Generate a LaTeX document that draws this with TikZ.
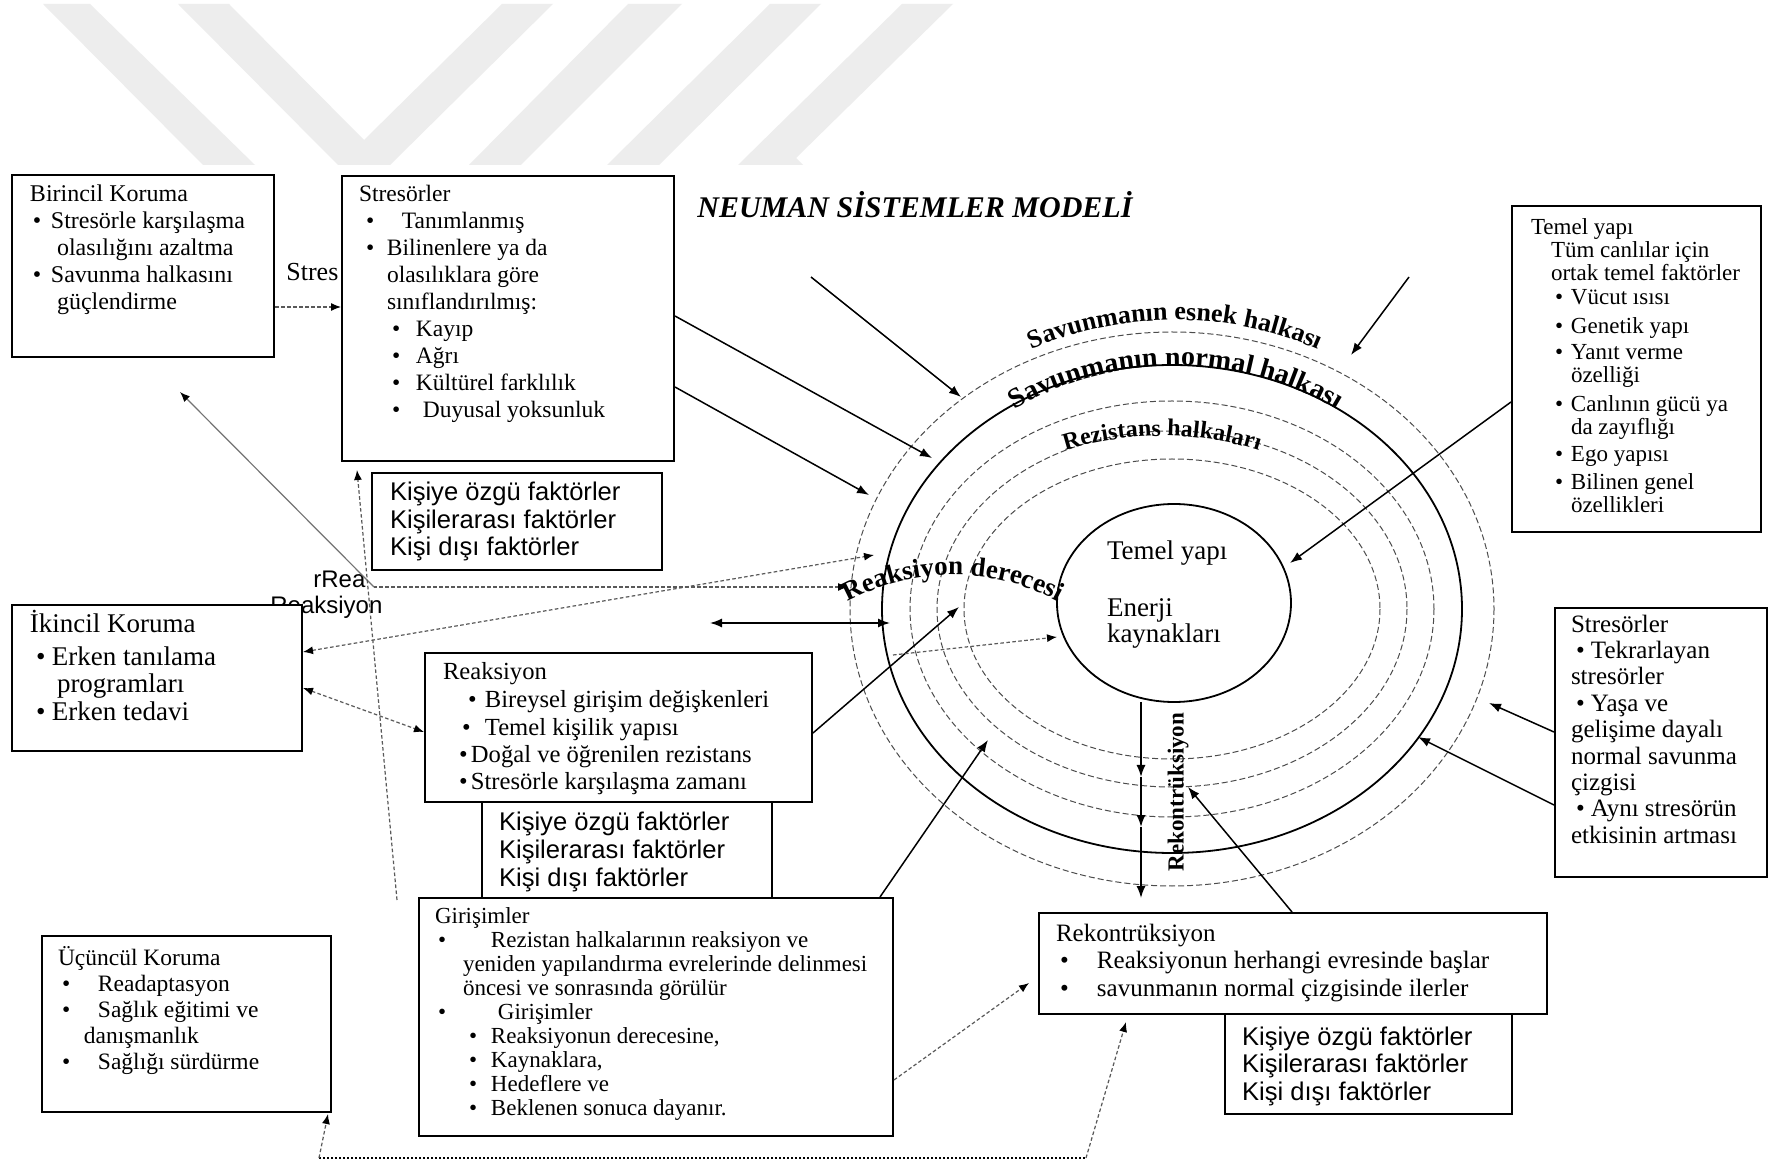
\documentclass[tikz,border=0pt]{standalone}
\usepackage{fontspec}
\setmainfont{Liberation Serif}
\newfontfamily\sansf{Liberation Sans}
\usetikzlibrary{arrows.meta,decorations.text,calc}
\newcommand\fsz[2]{\fontsize{#1}{#2}\selectfont}
\newcommand\bulx[2]{\hspace*{#1}\makebox[#2][l]{\textbullet}}
\newcommand\indx[1]{\hspace*{#1}}
\newcommand\strt{\rule{0pt}{12pt}}
\begin{document}
\begin{tikzpicture}[x=0.5pt,y=-0.5pt,
  bx/.style={draw, line width=1pt, fill=white, inner sep=0pt, anchor=north west},
  txt/.style={anchor=north west, inner sep=0pt, outer sep=0pt, align=left},
  sarr/.style={line width=0.75pt, -{Latex[length=6pt,width=4.5pt]}},
  darr/.style={line width=0.75pt, {Latex[length=6pt,width=4.5pt]}-{Latex[length=6pt,width=4.5pt]}},
  dotl/.style={draw=black!65, line width=0.6pt, dash pattern=on 1.8pt off 1.2pt},
  dtip/.style={-{Latex[length=5pt,width=4pt,color=black]}},
  dtips/.style={{Latex[length=5pt,width=4pt,color=black]}-{Latex[length=5pt,width=4pt,color=black]}},
  ringd/.style={draw=black!70, line width=0.5pt, dash pattern=on 3pt off 1.5pt},
]
% background / bounding box
\fill[white] (0,0) rectangle (1769,1160);
\useasboundingbox (0,0) rectangle (1769,1160);

% watermark
\fill[black!7] (43,4) -- (90,4) -- (255,165) -- (203,165) -- cycle;
\fill[black!7] (178,4) -- (229,4) -- (364,140) -- (502,4) -- (553,4) -- (390,165) -- (338,165) -- cycle;
\fill[black!7] (628,4) -- (682,4) -- (521,165) -- (469,165) -- cycle;
\fill[black!7] (770,4) -- (821,4) -- (659,165) -- (607,165) -- cycle;
\fill[black!7] (902,4) -- (953,4) -- (796,158) -- (803,165) -- (738,165) -- cycle;

% rings
\coordinate (rc) at (1172,609);
\draw[ringd] (rc) ellipse [x radius=322, y radius=277];
\draw[line width=0.9pt] (rc) ellipse [x radius=290, y radius=244];
\draw[ringd] (rc) ellipse [x radius=262, y radius=208];
\draw[ringd] (rc) ellipse [x radius=235, y radius=178];
\draw[ringd] (rc) ellipse [x radius=208, y radius=150];
\coordinate (core) at (1174,603);
\draw[line width=0.9pt] (core) ellipse [x radius=117, y radius=99];
\node[txt, font=\fsz{13.5}{13}] (coreT) at (1107,536) {\strt Temel yapı\\[15.5pt]Enerji\\kaynakları};

% loose texts partly hidden by boxes
\node[anchor=base west, inner sep=0pt, font=\fsz{13}{13}] (stresT) at (286,281) {Stres};
\node[anchor=base west, inner sep=0pt, font=\sansf\fsz{12}{12}] (rreaT) at (313,588) {rRea};
\node[anchor=base west, inner sep=0pt, font=\sansf\fsz{12}{12}] (reakT) at (270,614) {Reaksiyon};

% title
\node[anchor=base west, inner sep=0pt, font=\fsz{15}{15}\bfseries\itshape] (title) at (697,218) {NEUMAN SİSTEMLER MODELİ};

% boxes
\node[bx, minimum width=131pt, minimum height=91pt] (bir) at (11,174) {};
\node[bx, minimum width=166pt, minimum height=142.5pt] (str1) at (341,175) {};
\node[bx, minimum width=145pt, minimum height=48.5pt] (kis1) at (371,472) {};
\node[bx, minimum width=145pt, minimum height=73pt] (ikin) at (11,604) {};
\node[bx, minimum width=193.5pt, minimum height=74.5pt] (reak) at (424,652) {};
\node[bx, minimum width=145pt, minimum height=48pt] (kis2) at (481,801) {};
\node[bx, minimum width=237pt, minimum height=119pt] (gir) at (418,897) {};
\node[bx, minimum width=144.5pt, minimum height=88pt] (ucun) at (41,935) {};
\node[bx, minimum width=124.5pt, minimum height=163pt] (temel) at (1511,205) {};
\node[bx, minimum width=106pt, minimum height=134.5pt] (str2) at (1554,607) {};
\node[bx, minimum width=254pt, minimum height=50.5pt] (rek) at (1038,912) {};
\node[bx, minimum width=143.5pt, minimum height=50pt] (kis3) at (1224,1013) {};

% box texts
\node[txt, font=\fsz{12}{13.4}] (birT) at (30,178) {\strt Birincil Koruma\\
\bulx{1.5pt}{9pt}Stresörle karşılaşma\\
\indx{13.5pt}olasılığını azaltma\\
\bulx{1.5pt}{9pt}Savunma halkasını\\
\indx{13.5pt}güçlendirme};

\node[txt, font=\fsz{11.75}{13.45}] (str1T) at (359,178) {\strt Stresörler\\
\bulx{3.5pt}{18pt}Tanımlanmış\\
\bulx{3.5pt}{10.5pt}Bilinenlere ya da\\
\indx{14pt}olasılıklara göre\\
\indx{14pt}sınıflandırılmış:\\
\bulx{16.5pt}{12pt}Kayıp\\
\bulx{16.5pt}{12pt}Ağrı\\
\bulx{16.5pt}{12pt}Kültürel farklılık\\
\bulx{16.5pt}{15.5pt}Duyusal yoksunluk};

\node[txt, font=\sansf\fsz{12.8}{13.75}] (kis1T) at (390,477) {\strt Kişiye özgü faktörler\\Kişilerarası faktörler\\Kişi dışı faktörler};

\node[txt, font=\fsz{11.5}{11.5}] (temelT) at (1531,211) {\strt Temel yapı\\
\indx{10pt}Tüm canlılar için\\
\indx{10pt}ortak temel faktörler\\[0.5pt]
\bulx{12pt}{8pt}Vücut ısısı\\[3pt]
\bulx{12pt}{8pt}Genetik yapı\\[1.5pt]
\bulx{12pt}{8pt}Yanıt verme\\
\indx{20pt}özelliği\\[3pt]
\bulx{12pt}{8pt}Canlının gücü ya\\
\indx{20pt}da zayıflığı\\[2pt]
\bulx{12pt}{8pt}Ego yapısı\\[2.5pt]
\bulx{12pt}{8pt}Bilinen genel\\
\indx{20pt}özellikleri};

\node[txt, font=\fsz{12.3}{13.75}] (reakTT) at (443,656) {\strt Reaksiyon\\
\bulx{12.5pt}{8.5pt}Bireysel girişim değişkenleri\\
\bulx{9.5pt}{11.5pt}Temel kişilik yapısı\\
\bulx{8pt}{6pt}Doğal ve öğrenilen rezistans\\
\bulx{8pt}{6pt}Stresörle karşılaşma zamanı};

\node[txt, font=\sansf\fsz{12.8}{14}] (kis2T) at (499,806) {\strt Kişiye özgü faktörler\\Kişilerarası faktörler\\Kişi dışı faktörler};

\node[txt, font=\fsz{13.5}{14}] (ikinT) at (30,609) {\strt İkincil Koruma\\[2pt]
\bulx{3pt}{8pt}Erken tanılama\\
\indx{13.5pt}programları\\
\bulx{3pt}{8pt}Erken tedavi};

\node[txt, font=\fsz{11.5}{12}] (girT) at (435,899) {\strt Girişimler\\
\bulx{1.5pt}{26.5pt}Rezistan halkalarının reaksiyon ve\\
\indx{14pt}yeniden yapılandırma evrelerinde delinmesi\\
\indx{14pt}öncesi ve sonrasında görülür\\
\bulx{1.5pt}{30pt}Girişimler\\
\bulx{17pt}{11pt}Reaksiyonun derecesine,\\
\bulx{17pt}{11pt}Kaynaklara,\\
\bulx{17pt}{11pt}Hedeflere ve\\
\bulx{17pt}{11pt}Beklenen sonuca dayanır.};

\node[txt, font=\fsz{11.75}{13}] (ucunT) at (58,941) {\strt Üçüncül Koruma\\
\bulx{2pt}{18pt}Readaptasyon\\
\bulx{2pt}{18pt}Sağlık eğitimi ve\\
\indx{13pt}danışmanlık\\
\bulx{2pt}{18pt}Sağlığı sürdürme};

\node[txt, font=\fsz{12.5}{13.2}] (str2T) at (1571,608) {\strt Stresörler\\
\bulx{2.5pt}{7.5pt}Tekrarlayan\\
stresörler\\
\bulx{2.5pt}{7.5pt}Yaşa ve\\
gelişime dayalı\\
normal savunma\\
çizgisi\\
\bulx{2.5pt}{7.5pt}Aynı stresörün\\
etkisinin artması};

\node[txt, font=\fsz{12.5}{13.75}] (rekT) at (1056,917) {\strt Rekontrüksiyon\\
\bulx{2pt}{18.5pt}Reaksiyonun herhangi evresinde başlar\\
\bulx{2pt}{18.5pt}savunmanın normal çizgisinde ilerler};

\node[txt, font=\sansf\fsz{12.8}{13.75}] (kis3T) at (1242,1021) {\strt Kişiye özgü faktörler\\Kişilerarası faktörler\\Kişi dışı faktörler};

% ring labels
\path[decorate, decoration={text along path, text align=center, text={|\fsz{13}{13}\bfseries|Savunmanın esnek halkası}}]
  ($(1175,603)+(-150:322 and 283)$) arc [start angle=-150, end angle=-30, x radius=322, y radius=283];
\path[decorate, decoration={text along path, text align=center, text={|\fsz{14}{14}\bfseries|Savunmanın normal halkası}}]
  ($(1176,598)+(-155:276 and 232)$) arc [start angle=-155, end angle=-25, x radius=276, y radius=232];
\path[decorate, decoration={text along path, text align=center, text={|\fsz{12}{12}\bfseries|Rezistans halkaları}}]
  ($(1162,608)+(-150:240 and 172)$) arc [start angle=-150, end angle=-30, x radius=240, y radius=172];
\path[decorate, decoration={text along path, text align=center, text={|\fsz{13.5}{13.5}\bfseries|Reaksiyon derecesi}}]
  ($(953,795)+(-125:220)$) arc [start angle=-125, end angle=-55, radius=220];
\node[rotate=90, inner sep=0pt, font=\fsz{11.5}{11.5}\bfseries] (rektxt) at (1178,792) {Rekontrüksiyon};

% solid connectors
\coordinate (f1) at (811,277);  \coordinate (t1) at (961,397);
\draw[sarr] (f1) -- (t1);
\coordinate (t2) at (932,458);
\draw[sarr] ($(str1.north east)+(0,141)$) -- (t2);
\coordinate (t3) at (869,495);
\draw[sarr] ($(str1.north east)+(0,212)$) -- (t3);
\coordinate (f4) at (1409,277); \coordinate (t4) at (1351,355);
\draw[sarr] (f4) -- (t4);
\coordinate (t5) at (1290,563);
\draw[sarr] ($(temel.north west)+(0,197)$) -- (t5);
\coordinate (t6) at (1489,703);
\draw[sarr] ($(str2.north west)+(0,125)$) -- (t6);
\coordinate (t7) at (1418,737);
\draw[sarr] ($(str2.north west)+(0,198)$) -- (t7);
\coordinate (t8) at (1188,787);
\draw[sarr] ($(rek.north west)+(254,0)$) -- (t8);
\coordinate (v0) at (1141,702); \coordinate (v1) at (1141,777);
\coordinate (v2) at (1141,827); \coordinate (v3) at (1141,898);
\draw[sarr] (v0) -- (v1);
\draw[sarr] (v1) -- (v2);
\draw[sarr] (v2) -- (v3);
\coordinate (t9) at (988,740);
\draw[sarr] ($(gir.north west)+(462,0)$) -- (t9);
\coordinate (t10) at (959,607);
\draw[sarr] ($(reak.north east)+(0,81)$) -- (t10);
\coordinate (h1) at (710,623); \coordinate (h2) at (890,623);
\draw[darr] (h1) -- (h2);

% dotted connectors
\draw[dotl, dtip] ($(bir.north east)+(0,133)$) -- ($(str1.north west)+(0,132)$);
\coordinate (f11) at (893,655); \coordinate (t11) at (1057,637);
\draw[dotl, dtip] (f11) -- (t11);
\coordinate (t12) at (874,555);
\draw[dotl, dtips] ($(ikin.north east)+(0,48)$) -- (t12);
\coordinate (t13) at (848,587); \coordinate (k) at (374,587);
\draw[dotl, {Latex[length=5pt,width=4pt,color=black]}-] (t13) -- (k);
\coordinate (t14) at (180,392);
\draw[black!55, line width=0.6pt, dtip] (k) -- (t14);
\draw[dotl, dtips] ($(ikin.north east)+(0,84)$) -- ($(reak.north west)+(0,80)$);
\coordinate (f15) at (397,900); \coordinate (t15) at (357,470);
\draw[dotl, dtip] (f15) -- (t15);
\coordinate (b1) at (319,1158); \coordinate (b2) at (1086,1158);
\draw[black, line width=1pt, densely dotted] (b1) -- (b2);
\draw[dotl, dtip] (b1) -- ($(ucun.south east)+(-4,1)$);
\draw[dotl, dtip] (b2) -- ($(rek.south west)+(88,7)$);
\draw[dotl, dtip] ($(gir.north east)+(0,183)$) -- ($(rek.north west)+(-9,71)$);
\end{tikzpicture}
\end{document}
